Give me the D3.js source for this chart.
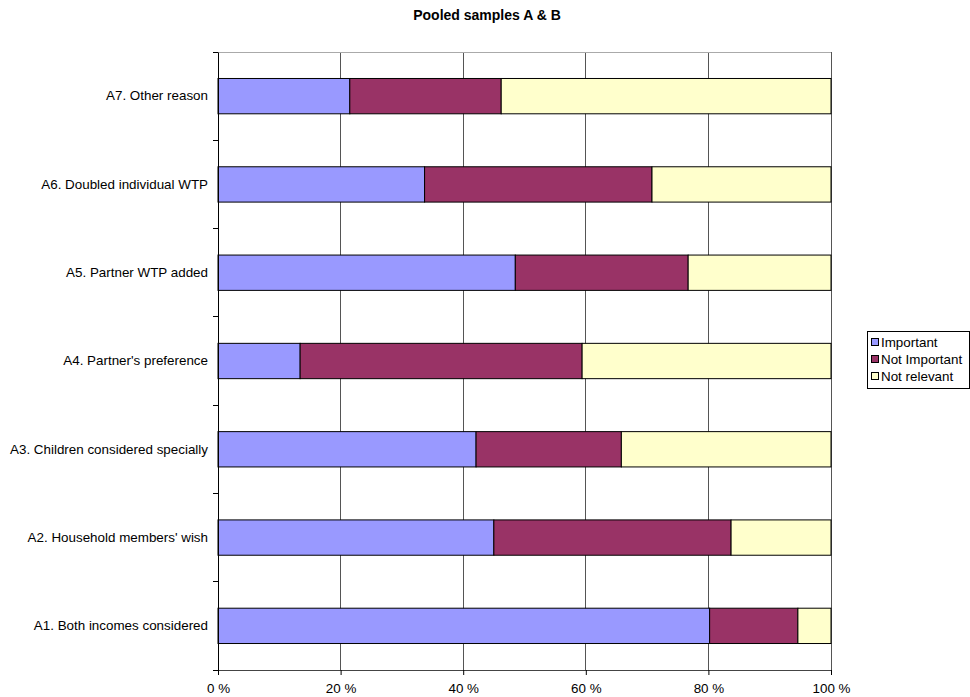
<!DOCTYPE html>
<html><head><meta charset="utf-8">
<script src="https://cdn.jsdelivr.net/npm/d3@7"></script>
<style>body{margin:0;background:#fff;} text{font-family:"Liberation Sans",Arial,sans-serif;}</style>
</head><body><svg id="c" width="970" height="697"></svg>
<script>
const categories = ["A1. Both incomes considered","A2. Household members' wish","A3. Children considered specially","A4. Partner's preference ","A5. Partner WTP added ","A6. Doubled individual WTP","A7. Other reason"];
const seriesNames = ["Important","Not Important","Not relevant"];
const important    = [80.2, 45.0, 42.1, 13.4, 48.5, 33.7, 21.5];
const notImportant = [14.4, 38.7, 23.7, 46.0, 28.2, 37.1, 24.7];
const notRelevant  = [5.4, 16.3, 34.2, 40.6, 23.3, 29.2, 53.8];
const colors = ["#9999FF","#993366","#FFFFCC"];
const xTicks = [0,20,40,60,80,100];

const svg = d3.select("#c");
const L=218, R=831, T=52, B=670;
const FS = 13.4;
const x = d3.scaleLinear().domain([0,100]).range([L,R]);
const y = d3.scaleBand().domain(categories.slice().reverse()).range([T,B]).paddingInner(0.6).paddingOuter(0.3);
const yb = d3.scaleBand().domain(categories.slice().reverse()).range([T,B]);

// grid
svg.append("g").selectAll("line").data(xTicks.slice(1)).join("line")
 .attr("x1",d=>x(d)).attr("x2",d=>x(d)).attr("y1",T).attr("y2",B)
 .attr("stroke","#555").attr("stroke-width",1).attr("shape-rendering","crispEdges");
svg.append("line").attr("x1",L).attr("x2",R).attr("y1",T).attr("y2",T).attr("stroke","#aaa").attr("shape-rendering","crispEdges");

const rows = categories.map((c,i)=>({c, v:[important[i],notImportant[i],notRelevant[i]]}));
const g = svg.append("g");
rows.forEach(r=>{
  let acc=0;
  r.v.forEach((v,j)=>{
    g.append("rect").attr("x",x(acc)).attr("width",x(acc+v)-x(acc))
     .attr("y",y(r.c)).attr("height",y.bandwidth())
     .attr("fill",colors[j]).attr("stroke","#000").attr("stroke-width",1);
    acc+=v;
  });
});

// y axis
const yAxis = d3.axisLeft(yb).tickSize(0).tickPadding(10);
const ya = svg.append("g").attr("transform",`translate(${L},0)`).call(yAxis);
ya.select(".domain").attr("stroke","#000");
ya.selectAll("text").attr("font-size",FS).attr("fill","#000");
// y ticks at band boundaries
svg.append("g").selectAll("line").data(d3.range(8)).join("line")
 .attr("x1",L-5).attr("x2",L).attr("y1",i=>T+i*yb.step()).attr("y2",i=>T+i*yb.step())
 .attr("stroke","#000").attr("shape-rendering","crispEdges");

// x axis
const xAxis = d3.axisBottom(x).tickValues(xTicks).tickSize(5).tickPadding(8).tickFormat(d=>d+" %");
const xa = svg.append("g").attr("transform",`translate(0,${B})`).call(xAxis);
xa.select(".domain").attr("stroke","#444");
xa.selectAll("line").attr("stroke","#000");
xa.selectAll("text").attr("font-size",FS).attr("fill","#000");

// title
svg.append("text").attr("x",487).attr("y",20).attr("text-anchor","middle")
 .attr("font-size",14).attr("font-weight","bold").text("Pooled samples A & B");

// legend
const lg = svg.append("g");
lg.append("rect").attr("x",867.5).attr("y",331.5).attr("width",102).attr("height",57).attr("fill","#fff").attr("stroke","#000");
seriesNames.forEach((s,i)=>{
  lg.append("rect").attr("x",871.5).attr("y",338.5+i*17).attr("width",7).attr("height",7).attr("fill",colors[i]).attr("stroke","#000");
  lg.append("text").attr("x",881).attr("y",346.5+i*17).attr("font-size",FS).text(s);
});
</script></body></html>
